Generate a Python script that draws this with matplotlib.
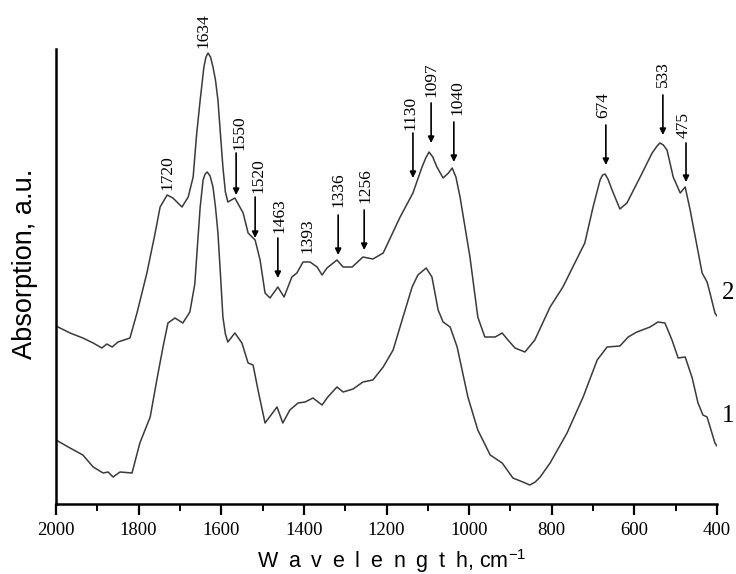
import matplotlib
matplotlib.use("Agg")
import matplotlib.pyplot as plt
from matplotlib.ticker import MultipleLocator

# ---------------- data ----------------
wn2 = [2000,1966,1935,1910,1889,1877,1864,1850,1821,1804,1780,1760,1748,1731,1717,1695,1680,1668,1660,1651,1642,
       1637,1632,1626,1620,1614,1608,1602,1596,1590,1584,1567,1547,1535,1518,1506,1494,1482,1463,1448,1429,1417,1402,1385,1368,1356,
       1344,1320,1305,1283,1257,1233,1208,1167,1136,1114,1105,1097,1088,1078,1063,1050,1041,1032,1022,998,979,962,937,920,
       906,889,865,841,804,773,749,720,700,683,677,671,664,654,635,618,586,557,545,538,530,521,506,489,
       477,465,448,436,424,417,405,400]
ab2 = [178,171,166,161,156,160,157,162,166,191,231,271,297,309,306,297,307,327,368,404,437,
       447,451,447,437,424,404,370,337,312,302,306,291,271,264,244,211,206,217,207,227,231,242,242,237,229,
       236,244,237,237,247,245,251,287,311,337,346,352,347,337,326,331,336,327,307,247,187,167,167,171,
       164,156,152,164,197,217,237,261,297,324,329,330,325,314,295,301,327,351,358,361,359,354,327,311,
       317,294,257,231,222,211,191,188]

wn1 = [2000,1966,1935,1910,1886,1874,1862,1845,1816,1797,1772,1756,1741,1729,1712,1693,1676,1664,1657,1651,1644,
       1639,1634,1627,1620,1614,1608,1602,1596,1590,1584,1567,1550,1535,1523,1511,1494,1465,1451,1434,1414,1397,1378,1356,1342,1320,
       1305,1281,1257,1233,1208,1184,1160,1138,1124,1104,1090,1075,1063,1046,1029,1003,979,949,920,894,
       870,853,840,828,804,763,724,690,666,635,615,594,562,543,526,509,494,477,460,446,434,424,405,400]
ab1 = [64,56,49,37,31,32,27,32,31,61,87,124,157,181,186,181,192,220,262,297,324,
       330,332,328,317,297,271,230,187,170,162,171,161,141,139,114,81,97,81,94,101,102,106,99,107,117,
       112,115,122,124,137,154,187,217,229,236,227,194,182,177,157,107,74,49,41,26,
       22,19,22,27,41,71,107,144,157,158,167,172,177,182,181,164,146,147,126,101,89,87,61,58]

# peak annotations: label, text x, text bottom, arrow x, arrow top, arrow tip (None = no arrow)
peak_labels = ["1634", "1720", "1550", "1520", "1463", "1393", "1336", "1256",
               "1130", "1097", "1040", "674", "533", "475"]
label_x     = [1642, 1731, 1555, 1509, 1460, 1392, 1317, 1250, 1143, 1092, 1029, 676, 531, 480]
label_y     = [456, 314, 354, 311, 271, 251, 297, 301, 374, 407, 389, 386, 417, 366]
arrow_x     = [None, None, 1564, 1518, 1463, None, 1317, 1254, 1136, 1092, 1037, 669, 531, 475]
arrow_top   = [None, None, 351, 307, 266, None, 289, 294, 371, 401, 382, 379, 409, 361]
arrow_tip   = [None, None, 309, 266, 226, None, 249, 254, 326, 361, 342, 339, 369, 322]

curve_names = ["2", "1"]
curve_name_x = [388, 388]
curve_name_y = [211, 88]

xticks = [2000, 1800, 1600, 1400, 1200, 1000, 800, 600, 400]

# ---------------- figure ----------------
plt.rcParams["mathtext.default"] = "regular"
fig = plt.figure(figsize=(7.36, 5.74), dpi=100)
ax = fig.add_axes([56/736, 70/574, 661/736, 455/574])

line_col = "#3a3a3a"
ax.plot(wn2, ab2, color=line_col, lw=1.1)
ax.plot(wn1, ab1, color=line_col, lw=1.1)

ax.set_xlim(2000, 400)
ax.set_ylim(0, 455)

serif = ["Liberation Serif", "DejaVu Serif"]
sans = ["Liberation Sans", "DejaVu Sans"]

for lab, tx, ty, axx, atop, atip in zip(peak_labels, label_x, label_y, arrow_x, arrow_top, arrow_tip):
    ax.text(tx, ty, lab, rotation=90, ha="center", va="bottom", fontsize=12.5,
            family=serif, clip_on=False)
    if axx is not None:
        ax.annotate("", xy=(axx, atip), xytext=(axx, atop),
                    arrowprops=dict(arrowstyle="-|>", color="black", lw=1.2,
                                    mutation_scale=9, shrinkA=0, shrinkB=0))

for name, nx, ny in zip(curve_names, curve_name_x, curve_name_y):
    ax.text(nx, ny, name, ha="left", va="center", fontsize=18, family=serif, clip_on=False)

ax.spines["top"].set_visible(False)
ax.spines["right"].set_visible(False)
ax.spines["left"].set_linewidth(1.8)
ax.spines["bottom"].set_linewidth(1.8)

ax.set_yticks([])
ax.set_xticks(xticks)
ax.xaxis.set_minor_locator(MultipleLocator(100))
ax.tick_params(axis="x", which="major", direction="out", length=8, width=1.6, pad=5,
               labelsize=13.5)
ax.tick_params(axis="x", which="minor", direction="out", length=5, width=1.4)
for t in ax.get_xticklabels():
    t.set_family(serif)

sp = "\u2002"
xlabel_text = sp.join("Wavelength") + ", cm$^{-1}$"
fig.text(392/736, 1 - 568/574, xlabel_text,
         family=sans, fontsize=15.5, ha="center", va="baseline")
fig.text(25.5/736, 1 - 264/574, "Absorption, a.u.", family=sans, fontsize=19.5,
         rotation=90, ha="center", va="center")

fig.savefig("out.png", dpi=100)
